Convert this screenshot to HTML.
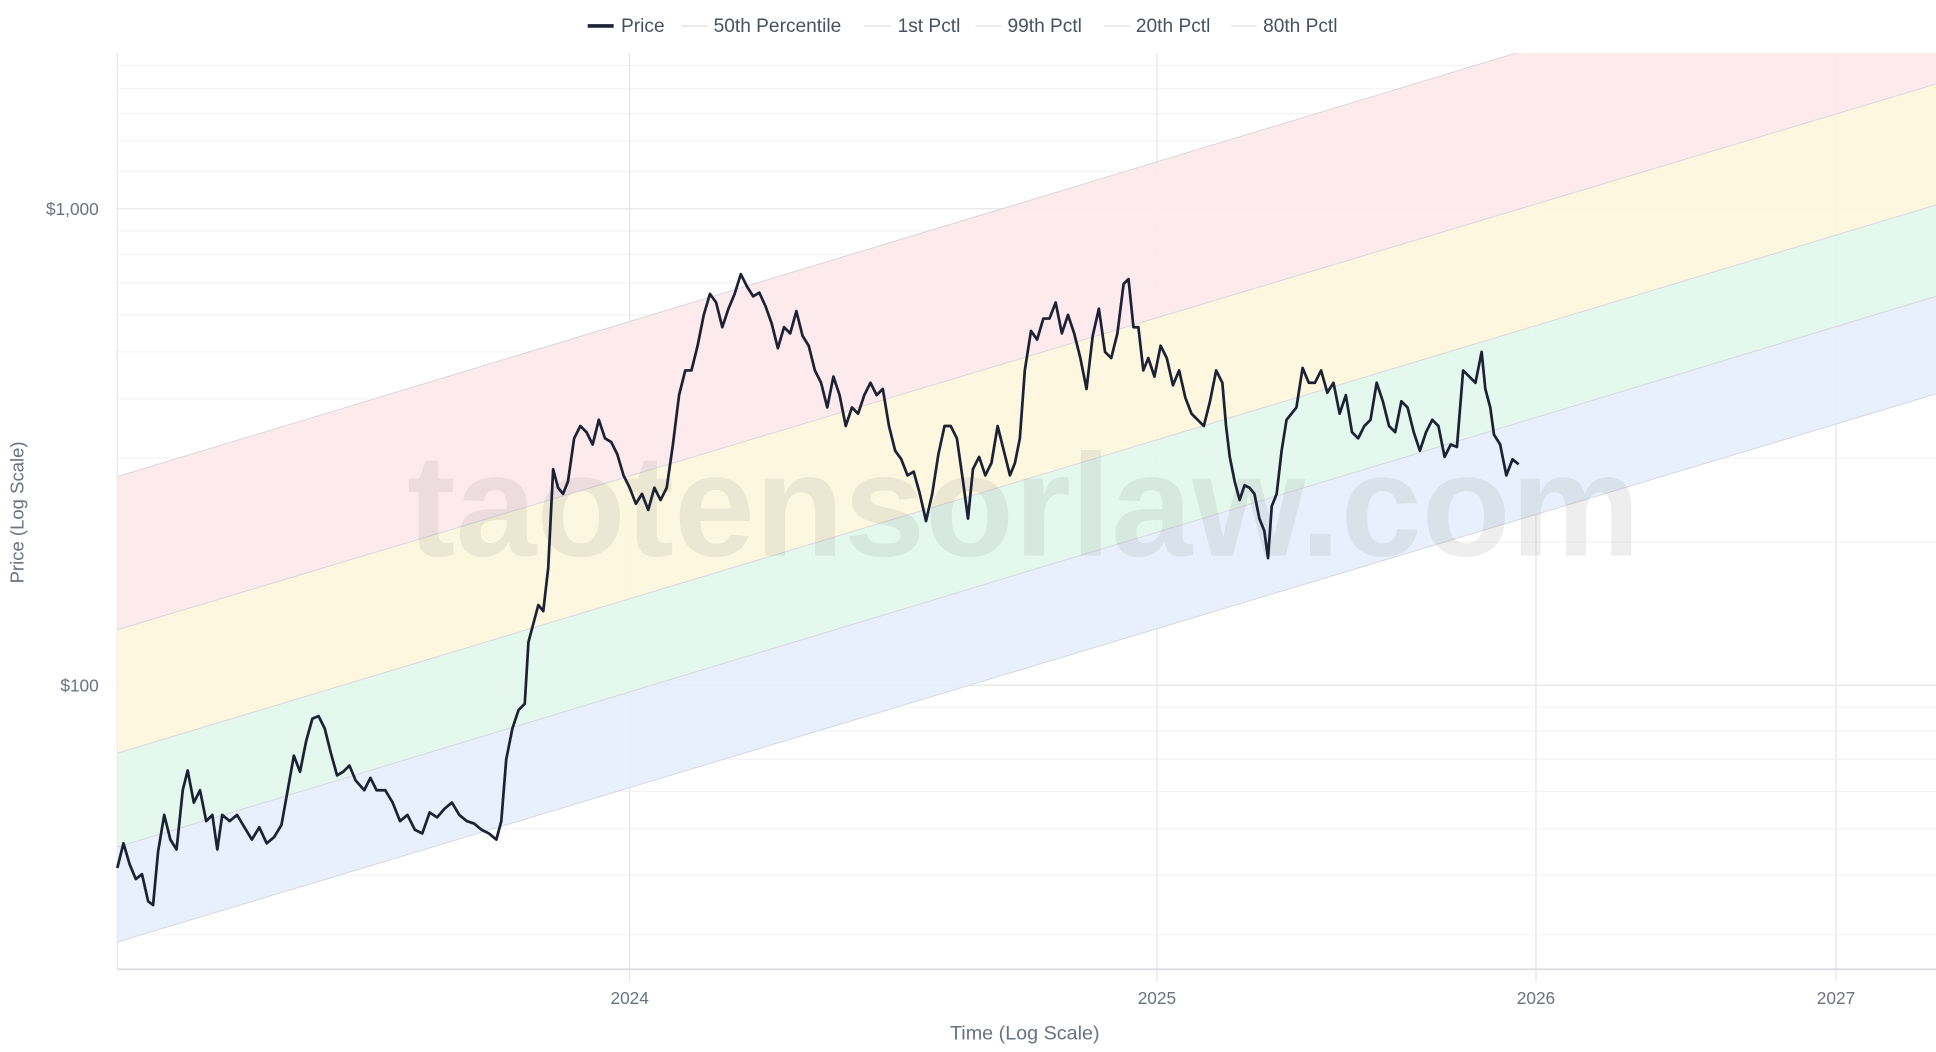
<!DOCTYPE html>
<html><head><meta charset="utf-8"><style>
html,body{margin:0;padding:0;background:#fff;}
svg{display:block;font-family:"Liberation Sans",sans-serif;}
</style></head><body>
<svg width="1936" height="1052" viewBox="0 0 1568 852" xmlns="http://www.w3.org/2000/svg">
<rect width="1568" height="852" fill="#fff"/>
<g stroke="#f4f4f6" stroke-width="1">
<line x1="95" x2="1568" y1="53" y2="53"/><line x1="95" x2="1568" y1="72" y2="72"/><line x1="95" x2="1568" y1="92" y2="92"/><line x1="95" x2="1568" y1="114" y2="114"/><line x1="95" x2="1568" y1="139" y2="139"/>
<line x1="95" x2="1568" y1="187" y2="187"/><line x1="95" x2="1568" y1="206" y2="206"/><line x1="95" x2="1568" y1="229" y2="229"/><line x1="95" x2="1568" y1="255" y2="255"/><line x1="95" x2="1568" y1="285" y2="285"/><line x1="95" x2="1568" y1="323" y2="323"/><line x1="95" x2="1568" y1="371" y2="371"/><line x1="95" x2="1568" y1="439" y2="439"/>
<line x1="95" x2="1568" y1="573" y2="573"/><line x1="95" x2="1568" y1="592" y2="592"/><line x1="95" x2="1568" y1="615" y2="615"/><line x1="95" x2="1568" y1="641" y2="641"/><line x1="95" x2="1568" y1="671" y2="671"/><line x1="95" x2="1568" y1="709" y2="709"/><line x1="95" x2="1568" y1="757" y2="757"/>
</g>
<g stroke="#e6e6ea" stroke-width="1">
<line x1="95" x2="1568" y1="169" y2="169"/><line x1="95" x2="1568" y1="555" y2="555"/>
<line x1="510" x2="510" y1="43" y2="795"/><line x1="937" x2="937" y1="43" y2="795"/><line x1="1244" x2="1244" y1="43" y2="795"/><line x1="1487" x2="1487" y1="43" y2="795"/>
<line x1="95" x2="95" y1="43" y2="785"/>
</g>
<clipPath id="c"><rect x="95" y="43" width="1473" height="742"/></clipPath>
<g clip-path="url(#c)">
<polygon points="95,386 1568,-60 1568,68 95,510" fill="#fde8ea" fill-opacity="0.92"/>
<polygon points="95,510 1568,68 1568,166 95,610" fill="#fdf6dc" fill-opacity="0.92"/>
<polygon points="95,610 1568,166 1568,240 95,686" fill="#e3f7ec" fill-opacity="0.92"/>
<polygon points="95,686 1568,240 1568,319 95,763" fill="#e5effc" fill-opacity="0.92"/>
<g stroke="#d8d8de" stroke-width="0.8" fill="none">
<line x1="95" y1="386" x2="1568" y2="-60"/><line x1="95" y1="510" x2="1568" y2="68"/><line x1="95" y1="610" x2="1568" y2="166"/><line x1="95" y1="686" x2="1568" y2="240"/><line x1="95" y1="763" x2="1568" y2="319"/>
</g>
</g>
<line x1="95" x2="1568" y1="785" y2="785" stroke="#dcdce0" stroke-width="1.5"/>
<text x="829" y="450" font-size="118" fill="#8a8a8a" fill-opacity="0.14" text-anchor="middle" font-weight="bold">taotensorlaw.com</text>
<polyline fill="none" stroke="#1c2235" stroke-width="2.2" stroke-linejoin="round" points="95,703 100,683 105,700 110,712 115,708 120,730 124,733 128,690 133,660 138,680 143,688 148,640 152,624 157,650 162,640 167,665 172,660 176,688 180,660 186,665 192,660 198,670 204,680 210,670 216,683 222,678 228,668 233,640 238,612 243,625 248,600 253,582 258,580 263,590 268,610 273,628 278,625 283,620 288,632 295,640 300,630 305,640 312,640 318,650 324,665 330,660 336,672 342,675 348,658 354,662 360,655 366,650 372,660 378,665 384,667 390,672 396,675 402,680 406,665 410,615 415,590 420,575 425,570 428,520 432,505 436,490 440,495 444,460 448,380 452,395 456,400 460,390 465,355 470,345 475,350 480,360 485,340 490,355 495,358 500,368 505,385 510,395 515,408 520,400 525,413 530,395 535,405 540,395 545,360 550,320 555,300 560,300 565,280 570,255 575,238 580,245 585,265 590,250 595,238 600,222 605,232 610,240 615,237 620,248 625,262 630,282 635,265 640,270 645,252 650,272 655,280 660,300 665,310 670,330 675,305 680,320 685,345 690,330 695,335 700,320 705,310 710,320 715,315 720,345 725,365 730,372 735,385 740,382 745,400 750,422 755,400 760,368 765,345 770,345 775,355 780,390 784,420 788,380 793,370 798,385 803,375 808,345 813,365 818,385 822,375 826,355 830,300 835,268 840,275 845,258 850,258 855,245 860,270 865,255 870,270 875,290 880,315 885,272 890,250 895,285 900,290 905,270 910,230 914,226 918,265 922,265 926,300 930,290 935,305 940,280 945,290 950,312 955,300 960,322 965,335 970,340 975,345 980,325 985,300 990,310 993,345 996,370 1000,390 1004,405 1008,393 1012,395 1016,400 1020,420 1024,430 1027,452 1030,410 1034,400 1038,365 1042,340 1046,335 1050,330 1055,298 1060,310 1065,310 1070,300 1075,318 1080,310 1085,335 1090,320 1095,350 1100,355 1105,345 1110,340 1115,310 1120,325 1125,345 1130,350 1135,325 1140,330 1145,350 1150,365 1155,350 1160,340 1165,345 1170,370 1175,360 1180,362 1185,300 1190,305 1195,310 1200,285 1203,315 1207,330 1210,352 1215,360 1220,385 1225,372 1230,376"/>
<g font-size="14" fill="#6b7083">
<text x="80" y="174" text-anchor="end">$1,000</text>
<text x="80" y="560" text-anchor="end">$100</text>
<text x="510" y="813" text-anchor="middle">2024</text>
<text x="937" y="813" text-anchor="middle">2025</text>
<text x="1244" y="813" text-anchor="middle">2026</text>
<text x="1487" y="813" text-anchor="middle">2027</text>
</g>
<text x="830" y="842" font-size="16" fill="#6b7083" text-anchor="middle">Time (Log Scale)</text>
<text transform="translate(19,415) rotate(-90)" font-size="15" fill="#6b7083" text-anchor="middle">Price (Log Scale)</text>
<g font-size="15.5" fill="#4a5063">
<line x1="476" x2="497" y1="21" y2="21" stroke="#1c2235" stroke-width="3"/>
<text x="503" y="26">Price</text>
<line x1="552" x2="573" y1="21" y2="21" stroke="#ddd" stroke-width="1"/>
<text x="578" y="26">50th Percentile</text>
<line x1="700" x2="721" y1="21" y2="21" stroke="#ddd" stroke-width="1"/>
<text x="727" y="26">1st Pctl</text>
<line x1="790" x2="811" y1="21" y2="21" stroke="#ddd" stroke-width="1"/>
<text x="816" y="26">99th Pctl</text>
<line x1="894" x2="915" y1="21" y2="21" stroke="#ddd" stroke-width="1"/>
<text x="920" y="26">20th Pctl</text>
<line x1="997" x2="1018" y1="21" y2="21" stroke="#ddd" stroke-width="1"/>
<text x="1023" y="26">80th Pctl</text>
</g>
</svg>
</body></html>
